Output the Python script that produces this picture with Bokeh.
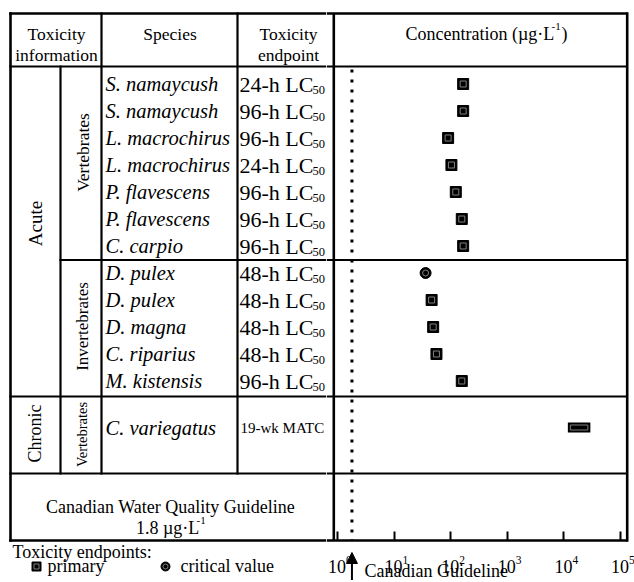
import math
from bokeh.plotting import figure
from bokeh.layouts import row
from bokeh.models import Range1d, Label, Arrow, NormalHead, FixedTicker, CustomJSTickFormatter
from bokeh.embed import file_html
from bokeh.resources import INLINE
from bokeh.core.properties import value

# ---------------- data ----------------
vert_species = ["S. namaycush", "S. namaycush", "L. macrochirus", "L. macrochirus",
                "P. flavescens", "P. flavescens", "C. carpio"]
vert_endpoints = ["24-h LC50", "96-h LC50", "96-h LC50", "24-h LC50",
                  "96-h LC50", "96-h LC50", "96-h LC50"]
vert_values = [166, 166, 90, 103, 123, 157, 166]
vert_kind = ["primary"] * 7

inv_species = ["D. pulex", "D. pulex", "D. magna", "C. riparius", "M. kistensis"]
inv_endpoints = ["48-h LC50", "48-h LC50", "48-h LC50", "48-h LC50", "96-h LC50"]
inv_values = [36, 46, 49, 56, 157]
inv_kind = ["critical value", "primary", "primary", "primary", "primary"]

chronic_species = ["C. variegatus"]
chronic_endpoints = ["19-wk MATC"]
chronic_low = [13000]
chronic_high = [26500]

guideline = 1.8
guideline_text = ["Canadian Water Quality Guideline", "1.8 µg·L"]
tick_values = [1, 10, 100, 1000, 10000, 100000]
tick_base = ["10"] * 6
tick_exponents = ["0", "1", "2", "3", "4", "5"]

# ---------------- layout constants (page pixels) ----------------
FONT = value("Liberation Serif")
W_L, W_R, H = 326, 308, 580
X_L, X_C1, X_SP, X_EP = 10, 60, 101, 237
Y_T, Y_H, Y_V, Y_A, Y_C, Y_B = 13, 66, 259.5, 396, 473, 540
ROW_H = 27
X0_PX, DEC_PX = 337.0, 56.6          # pixel of 10^0 and pixels per decade
FRAME_L, FRAME_R = W_L, W_L + W_R
BORDER_R = 626.7
LW_OUT, LW_IN = 2.6, 2.2


def px_to_val(px):
    return 10 ** ((px - X0_PX) / DEC_PX)


vert_y = [83.5 + i * ROW_H for i in range(len(vert_species))]
inv_y = [272.5 + i * ROW_H for i in range(len(inv_species))]
chronic_y = [427]

# ---------------- left (table) figure ----------------
L = figure(width=W_L, height=H, x_range=Range1d(0, W_L), y_range=Range1d(H, 0),
           output_backend="svg", toolbar_location=None,
           x_axis_location=None, y_axis_location=None,
           min_border=0, outline_line_color=None)
L.grid.visible = False

L.segment(x0=[X_L, X_L, X_L], y0=[Y_T, Y_T, Y_B], x1=[W_L, X_L, W_L], y1=[Y_T, Y_B, Y_B],
          line_color="black", line_width=LW_OUT, line_cap="square")
L.segment(x0=[X_L, X_C1, X_SP, X_EP, X_C1, X_L, X_L],
          y0=[Y_H, Y_H, Y_T, Y_T, Y_V, Y_A, Y_C],
          x1=[W_L, X_C1, X_SP, X_EP, W_L, W_L, W_L],
          y1=[Y_H, Y_C, Y_C, Y_C, Y_V, Y_A, Y_C],
          line_color="black", line_width=LW_IN, line_cap="square")

# headers
hdr = dict(text_font=FONT, text_font_size="17.5px", text_align="center",
           text_baseline="alphabetic", text_color="black")
L.text(x=[56, 56, 169.5, 288, 288], y=[33, 54, 33, 33, 54],
       text=["Toxicity", "information", "Species", "Toxicity", "endpoint"], **hdr)

# rotated group labels
rot = dict(text_font=FONT, text_align="center", text_baseline="middle",
           angle=math.pi / 2, text_color="black")
L.text(x=[34.5], y=[223], text=["Acute"], text_font_size="19px", **rot)
L.text(x=[82], y=[152], text=["Vertebrates"], text_font_size="17.5px", **rot)
L.text(x=[82], y=[326], text=["Invertebrates"], text_font_size="17px", **rot)
L.text(x=[34.5], y=[433], text=["Chronic"], text_font_size="18px", **rot)
L.text(x=[81], y=[434], text=["Vertebrates"], text_font_size="14.5px", **rot)

# species
sp = dict(text_font=FONT, text_font_style="italic", text_font_size="20.5px",
          text_align="left", text_baseline="middle", text_color="black")
L.text(x=[105] * 7, y=vert_y, text=vert_species, **sp)
L.text(x=[105] * 5, y=inv_y, text=inv_species, **sp)
L.text(x=[105], y=chronic_y, text=chronic_species, **sp)

# endpoints with subscript
all_ep = vert_endpoints + inv_endpoints
all_ep_y = vert_y + inv_y
main_txt = [e[:-2] for e in all_ep]
sub_txt = [e[-2:] for e in all_ep]
L.text(x=[239] * len(main_txt), y=all_ep_y, text=main_txt, text_font=FONT,
       text_font_size="22px", text_align="left", text_baseline="middle", text_color="black")
L.text(x=[312] * len(sub_txt), y=[y + 6 for y in all_ep_y], text=sub_txt, text_font=FONT,
       text_font_size="12.5px", text_align="left", text_baseline="middle", text_color="black")
L.text(x=[240], y=chronic_y, text=chronic_endpoints, text_font=FONT,
       text_font_size="15px", text_align="left", text_baseline="middle", text_color="black")

# guideline cell
L.text(x=[170], y=[506], text=[guideline_text[0]], text_font=FONT, text_font_size="18px",
       text_align="center", text_baseline="alphabetic", text_color="black")
L.text(x=[135.5], y=[527], text=[guideline_text[1]], text_font=FONT, text_font_size="18px",
       text_align="left", text_baseline="alphabetic", text_color="black")
L.text(x=[196], y=[520], text=["-1"], text_font=FONT, text_font_size="11px",
       text_align="left", text_baseline="alphabetic", text_color="black")

# legend
L.text(x=[12], y=[551], text=["Toxicity endpoints:"], text_font=FONT, text_font_size="18px",
       text_align="left", text_baseline="middle", text_color="black")
L.scatter(x=[36], y=[566], marker="square", size=9, fill_color="black", line_color="black")
L.scatter(x=[36], y=[566], marker="square", size=5, fill_color=None, line_color="#808080")
L.scatter(x=[165], y=[566], marker="circle", size=9, fill_color="black", line_color="black")
L.scatter(x=[165], y=[566], marker="circle", size=5, fill_color=None, line_color="#808080")
L.text(x=[47, 180], y=[565, 565], text=["primary", "critical value"], text_font=FONT,
       text_font_size="18px", text_align="left", text_baseline="middle", text_color="black")

# ---------------- right (concentration) figure ----------------
R = figure(width=W_R, height=H, x_axis_type="log",
           x_range=Range1d(px_to_val(FRAME_L), px_to_val(FRAME_R)),
           y_range=Range1d(H, 0),
           output_backend="svg", toolbar_location=None, y_axis_location=None,
           min_border=0, outline_line_color=None)
R.grid.visible = False

ax = R.xaxis[0]
ax.fixed_location = Y_B
ax.ticker = FixedTicker(ticks=tick_values)
ax.formatter = CustomJSTickFormatter(code="return '';")
ax.axis_line_color = None
ax.major_tick_in = 9
ax.major_tick_out = 0
ax.major_tick_line_width = 2
ax.major_tick_line_color = "black"
ax.minor_tick_line_color = None

# tick labels: 10 with superscript exponent
R.text(x=tick_values, y=[566] * len(tick_values), text=tick_base, text_font=FONT,
       text_font_size="18px", text_align="right", text_baseline="alphabetic",
       text_color="black", x_offset=8.5)
R.text(x=tick_values, y=[559] * len(tick_values), text=tick_exponents, text_font=FONT,
       text_font_size="11.5px", text_align="left", text_baseline="alphabetic",
       text_color="black", x_offset=8.5)

x_start = px_to_val(FRAME_L)
x_div = px_to_val(333.3)
x_right = px_to_val(BORDER_R)
# borders of the plotting area
R.segment(x0=[x_start, x_start, x_div], y0=[Y_T, Y_B, Y_T], x1=[x_right, x_right, x_div],
          y1=[Y_T, Y_B, Y_B], line_color="black", line_width=LW_OUT)
R.segment(x0=[x_right], y0=[Y_T], x1=[x_right], y1=[Y_B],
          line_color="black", line_width=LW_OUT, line_cap="square")
R.segment(x0=[x_start] * 4, y0=[Y_H, Y_V, Y_A, Y_C], x1=[x_right] * 4, y1=[Y_H, Y_V, Y_A, Y_C],
          line_color="black", line_width=LW_IN)

# header text
R.text(x=[px_to_val(405)], y=[33], text=["Concentration (µg·L"], text_font=FONT,
       text_font_size="18px", text_align="left", text_baseline="alphabetic", text_color="black")
R.text(x=[px_to_val(551)], y=[26], text=["-1"], text_font=FONT,
       text_font_size="11px", text_align="left", text_baseline="alphabetic", text_color="black")
R.text(x=[px_to_val(561)], y=[33], text=[")"], text_font=FONT,
       text_font_size="18px", text_align="left", text_baseline="alphabetic", text_color="black")

# guideline dotted line
R.segment(x0=[guideline], y0=[Y_H + 3], x1=[guideline], y1=[Y_B], line_color="black",
          line_width=3, line_dash="3 7")

# markers
all_vals = vert_values + inv_values
all_kind = vert_kind + inv_kind
sq_x = [v for v, k in zip(all_vals, all_kind) if k == "primary"]
sq_y = [y for y, k in zip(all_ep_y, all_kind) if k == "primary"]
ci_x = [v for v, k in zip(all_vals, all_kind) if k != "primary"]
ci_y = [y for y, k in zip(all_ep_y, all_kind) if k != "primary"]
R.scatter(x=sq_x, y=sq_y, marker="square", size=11, fill_color="black", line_color="black")
R.scatter(x=sq_x, y=sq_y, marker="square", size=6, fill_color=None, line_color="#808080")
R.scatter(x=ci_x, y=ci_y, marker="circle", size=11, fill_color="black", line_color="black")
R.scatter(x=ci_x, y=ci_y, marker="circle", size=6, fill_color=None, line_color="#808080")

R.quad(left=chronic_low, right=chronic_high, top=[y - 2.5 for y in chronic_y],
       bottom=[y + 2.5 for y in chronic_y], fill_color="black", line_color="black",
       line_width=5, line_join="miter")
R.quad(left=chronic_low, right=chronic_high, top=[y - 2.5 for y in chronic_y],
       bottom=[y + 2.5 for y in chronic_y], fill_color=None, line_color="#808080",
       line_width=1, line_join="miter")

# guideline arrow and label below the axis
R.add_layout(Arrow(end=NormalHead(size=11, fill_color="black", line_color="black"),
                   x_start=guideline, y_start=H, x_end=guideline, y_end=552,
                   line_color="black", line_width=2))
R.add_layout(Label(x=px_to_val(364), y=570, text="Canadian Guideline", text_font="Liberation Serif",
                   text_font_size="18px", text_align="left", text_baseline="middle",
                   text_color="black"))

layout = row(L, R)
open("out.html", "w").write(file_html(layout, INLINE))
